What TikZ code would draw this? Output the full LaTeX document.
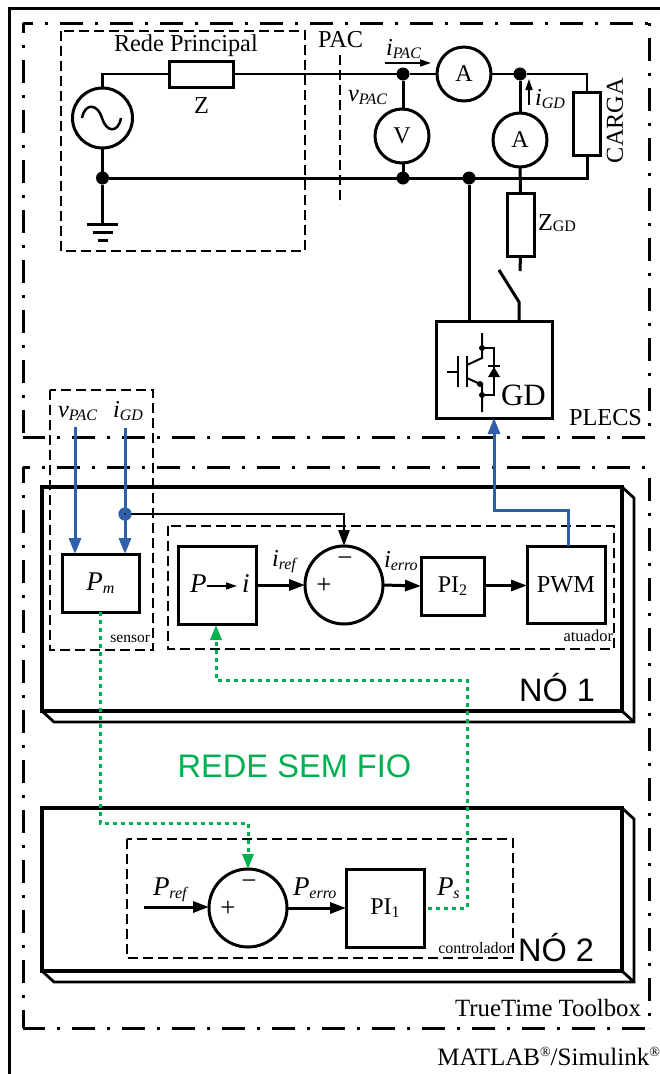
\documentclass[tikz,border=0pt]{standalone}
\usepackage{fontspec}
\setmainfont{Liberation Serif}
\newfontfamily\arialf{Liberation Sans}
\usetikzlibrary{arrows.meta,calc}
\newcommand\fsz[1]{\fontsize{#1}{#1}\selectfont}
\newcommand\subtxt[2]{\textit{#1}\raisebox{-3.5pt}{\fsz{16}\textit{#2}}}
\newcommand\subP[1]{{\fsz{27}\textit{P}}\raisebox{-3.5pt}{\fsz{16}\textit{#1}}}
\definecolor{myblue}{HTML}{2E5FA8}
\definecolor{mygreen}{HTML}{00B050}
\tikzset{
  x=1pt,y=-1pt,
  wire/.style={line width=3pt,line join=miter},
  thinwire/.style={line width=1.6pt},
  ddframe/.style={line width=3pt,dash pattern=on 23pt off 12pt on 2.5pt off 12.5pt},
  dbox/.style={line width=1.2pt,dash pattern=on 10pt off 5pt},
  blk/.style={draw,line width=3pt,rectangle,inner sep=0pt,outer sep=0pt,fill=white},
  circ/.style={draw,line width=3pt,circle,inner sep=0pt,outer sep=0pt,minimum size=#1},
  dot/.style={circle,fill=black,inner sep=0pt,outer sep=0pt,minimum size=13pt},
  t/.style={inner sep=0pt,outer sep=0pt,anchor=base west,font=\fsz{24.3}},
  te/.style={inner sep=0pt,outer sep=0pt,anchor=base east,font=\fsz{24.3}},
  tc/.style={inner sep=0pt,outer sep=0pt,anchor=center,font=\fsz{24.3}},
  bluel/.style={draw=myblue,line width=3pt,-{Triangle[length=16pt,width=12pt]}},
  greenl/.style={draw=mygreen,line width=3pt,dash pattern=on 4pt off 4pt},
  greentip/.style={-{Triangle[length=15pt,width=11pt,fill=mygreen,color=mygreen]}},
  blackar/.style={line width=3pt,-{Triangle[length=16pt,width=11pt]}},
  box3d/.style={line width=3.2pt,line join=miter}
}
\begin{document}
\begin{tikzpicture}
\useasboundingbox (0,0) rectangle (660,1074);
% outer frame
\coordinate (oa) at (9,1074); \coordinate (ob) at (9,8); \coordinate (oc) at (660,8);
\draw[line width=3pt] (oa) -- (ob) -- (oc);
% dash-dot frames
\coordinate (pa) at (23,23); \coordinate (pb) at (649,23); \coordinate (pc) at (649,437); \coordinate (pd) at (23,437);
\draw[ddframe,dash phase=13pt] (pa) -- (pb) (pa) -- (pd);
\draw[ddframe,dash phase=35pt] (pb) -- (pc);
\draw[ddframe,dash phase=1pt] (pd) -- (pc);
\coordinate (qa) at (23,467); \coordinate (qb) at (649,467); \coordinate (qc) at (649,1028); \coordinate (qd) at (23,1028);
\draw[ddframe,dash phase=16pt] (qa) -- (qb);
\draw[ddframe,dash phase=7pt] (qa) -- (qd);
\draw[ddframe,dash phase=39pt] (qb) -- (qc);
\draw[ddframe,dash phase=1pt] (qd) -- (qc);
% 3D blocks
\draw[box3d] (42,487) rectangle (622,711);
\draw[box3d,line width=2.8pt] (622,487) -- (634,498) -- (634,722) -- (54,722) -- (42,711) (622,711) -- (634,722);
\draw[box3d] (42,808) rectangle (622,971);
\draw[box3d,line width=2.8pt] (622,808) -- (634,819) -- (634,982) -- (54,982) -- (42,971) (622,971) -- (634,982);
% dashed boxes
\draw[dbox] (61,31) rectangle (305,251);
\coordinate (paca) at (340,55); \coordinate (pacb) at (340,205);
\draw[dbox] (paca) -- (pacb);
\draw[dbox] (50,390) rectangle (153,650);
\draw[dbox] (168,526) rectangle (614,649);
\draw[dbox] (127,839) rectangle (513,958);

% --- top circuit nodes
\node[circ=60pt] (src) at (102.5,118) {};
\node[blk,minimum width=64pt,minimum height=26pt] (z) at (201,74) {};
\node[circ=54pt,font=\fsz{24}] (ampac) at (464,74) {A};
\node[circ=54pt,font=\fsz{24}] (volt) at (402,136) {V};
\node[circ=54pt,font=\fsz{24}] (amgd) at (520,140) {A};
\node[blk,minimum width=27pt,minimum height=63pt] (carga) at (587,123.5) {};
\node[blk,minimum width=27pt,minimum height=63pt] (zgd) at (520.5,224.5) {};
\node[blk,minimum width=116pt,minimum height=97pt] (gd) at (494,369.5) {};
\node[dot] (j1) at (403,74) {};
\node[dot] (j2) at (520,74) {};
\node[dot] (j3) at (102.5,178) {};
\node[dot] (j4) at (403,178) {};
\node[dot] (j5) at (469,178) {};
\coordinate (c1) at (587,74);
\coordinate (c2) at (587,178);
\coordinate (gnd) at (102.5,224);
\coordinate (sw0) at (520,271);
\coordinate (sw1) at (499,270);
\coordinate (sw2) at (519,302);
\coordinate (sw3) at (519,321);
\coordinate (gdin) at (469,321);
% circuit wires
\draw[wire,line width=2.5pt] (src.north) |- (z.west);
\draw[wire,line width=2.5pt] (z.east) -- (j1) -- (ampac.west);
\draw[wire,line width=2.5pt] (ampac.east) -- (j2) -- (c1) -- (carga.north);
\draw[wire] (carga.south) -- (c2) -- (j3);
\draw[wire] (src.south) -- (j3) -- (gnd);
\draw[wire] (j1) -- (j1 |- volt.north);
\draw[wire] (j4 |- volt.south) -- (j4);
\draw[wire] (j2) -- (amgd.north);
\draw[wire] (amgd.south) -- (zgd.north);
\draw[wire] (zgd.south) -- (sw0);
\draw[wire] (j5) -- (gdin);
\draw[wire] (sw1) -- (sw2) -- (sw3);
% ground
\draw[wire] ($(gnd)+(-15.5,0)$) -- ($(gnd)+(15.5,0)$);
\draw[wire] ($(gnd)+(-10,8)$) -- ($(gnd)+(10,8)$);
\draw[wire] ($(gnd)+(-5,16)$) -- ($(gnd)+(5,16)$);
% sine
\draw[line width=2.5pt] (82,118) .. controls (85,102) and (98,104) .. (102,118) .. controls (106,132) and (118,134) .. (121,118);
% IGBT
\begin{scope}[line width=2pt]
\draw (447,372) -- (458,372);
\draw (458,356) -- (458,387);
\draw (467,356) -- (467,387);
\draw (467,365) -- (482,358) -- (482,333);
\draw (467,378) -- (480,384) -- (482,384) -- (482,412);
\draw (482,348) -- (494,348) -- (494,395) -- (482,395);
\fill (482,348) circle (3pt);
\fill (480,384) circle (3pt);
\fill (482,395) circle (3pt);
\fill (488,377) -- (500,377) -- (494,367) -- cycle;
\draw (488,366) -- (500,366);
\end{scope}
% labels top
\node[t] (lrede) at (114,51) {Rede Principal};
\node[t] (lz) at (194,113) {Z};
\node[t] (lpac) at (318,47) {PAC};
\node[t] (lipac) at (386,55) {\subtxt{i}{PAC}};
\coordinate (ia) at (385,63); \coordinate (ib) at (431,63);
\draw[thinwire,-{Triangle[length=11pt,width=7pt]}] (ia) -- (ib);
\node[t] (lvpac) at (348,101) {\subtxt{v}{PAC}};
\coordinate (iga) at (529,105); \coordinate (igb) at (529,79);
\draw[thinwire,-{Triangle[length=11pt,width=7pt]}] (iga) -- (igb);
\node[t] (ligd) at (535,105) {\subtxt{i}{GD}};
\node[tc,rotate=90] (lcarga) at (615,120.5) {CARGA};
\node[t] (lzgd) at (538,230) {Z\raisebox{-1pt}{\fsz{16}GD}};
\node[t,font=\fsz{31}] (lgd) at (501,405) {GD};
\node[te] (lplecs) at (642,425) {PLECS};

% --- lower blocks
\node[t] (lv2) at (58,417) {\subtxt{v}{PAC}};
\node[t] (li2) at (113,417) {\subtxt{i}{GD}};
\node[blk,minimum width=77pt,minimum height=58pt,font=\fsz{24}] (pm) at (100.5,583) {\subP{m}};
\node[blk,minimum width=78pt,minimum height=78pt] (pi) at (217,585) {};
\node[t,font=\fsz{27}] (pp) at (190,592) {\textit{P}};
\node[t,font=\fsz{27}] (pii) at (242,592) {\textit{i}};
\draw[thinwire,-{Triangle[length=11pt,width=7pt]},shorten >=5pt] (pp.east |- 0,586) ++(1,0) coordinate (pia) (pia) -- (pii.west |- pia);
\node[circ=78pt] (sum1) at (344,585) {};
\node[blk,minimum width=63pt,minimum height=58pt,font=\fsz{24}] (pi2) at (452.5,586) {PI\raisebox{-3pt}{\fsz{16}2}};
\node[blk,minimum width=78pt,minimum height=77pt,font=\fsz{24.3}] (pwm) at (566,584.5) {PWM};
\node[tc,font=\fsz{27}] (plus1) at (324,586) {+};
\node[tc,font=\fsz{27}] (minus1) at (345,562) {−};
\node[t] (liref) at (272,566) {\subtxt{i}{ref}};
\node[t] (lierro) at (384,567) {\subtxt{i}{erro}};
\node[te,font=\fsz{15.5}] (lsens) at (150,642) {sensor};
\node[te,font=\fsz{16.5}] (latu) at (613,641) {atuador};
\node[te,font=\arialf\fsz{32.5}] (ln1) at (595,701) {NÓ 1};
\node[tc,font=\arialf\fsz{32.6},text=mygreen] (lrsf) at (294.5,766) {REDE SEM FIO};
\node[circ=78pt] (sum2) at (248,908) {};
\node[blk,minimum width=78pt,minimum height=78pt,font=\fsz{24}] (pi1) at (385,908) {PI\raisebox{-3pt}{\fsz{16}1}};
\node[tc,font=\fsz{27}] (plus2) at (228,909) {+};
\node[tc,font=\fsz{27}] (minus2) at (249,885) {−};
\node[t] (lpref) at (153,895) {\subP{ref}};
\node[t] (lperro) at (293,895) {\subP{erro}};
\node[t] (lps) at (437,895) {\subP{s}};
\node[te,font=\fsz{16}] (lctrl) at (512,953) {controlador};
\node[te,font=\arialf\fsz{32.5}] (ln2) at (594,961) {NÓ 2};
\node[te,font=\fsz{24.8}] (ltt) at (641,1016) {TrueTime Toolbox};
\node[te,font=\fsz{25}] (lml) at (660,1065) {MATLAB\raisebox{9pt}{\fsz{14}®}/Simulink\raisebox{9pt}{\fsz{14}®}};

% --- connectors lower
\coordinate (va) at (75,427); \coordinate (pmv) at (75,554);
\coordinate (ga) at (125,428); \coordinate (pmi) at (125,554);
\node[circle,fill=myblue,inner sep=0pt,outer sep=0pt,minimum size=13pt] (bd) at (125,514) {};
\draw[blackar,line width=2.6pt] (bd.center) -| (sum1.north);
\draw[bluel] (va) -- (pmv);
\draw[bluel] (ga) -- (pmi);
\fill[myblue] (bd) circle (6.5pt);
\fill (bd) circle (0.9pt);
\draw[blackar] (pi.east) -- (sum1.west);
\draw[blackar] (sum1.east) -- (pi2.west);
\draw[blackar] ($(pi2.east)+(2,-0.5)$) coordinate (pi2o) -- (pwm.west |- pi2o);
\coordinate (pwmo) at (568,546); \coordinate (bt) at (494,510);
\draw[bluel] (pwmo) |- (bt) -- (gd.south);
\coordinate (pfa) at (144,907);
\draw[blackar] (pfa) -- (sum2.west |- pfa);
\draw[blackar] (sum2.east) -- (pi1.west);
% green
\coordinate (g1) at (100,612); \coordinate (g2) at (100,823); \coordinate (g3) at (248,823);
\draw[greenl,greentip] (g1) -- (g2) -- (g3) -- (sum2.north);
\coordinate (h1) at (428,908); \coordinate (h2) at (467,908); \coordinate (h3) at (467,680); \coordinate (h4) at (216,680); \coordinate (h5) at (216,625);
\draw[greenl,greentip] (h1) -- (h2) -- (h3) -- (h4) -- (h5);
\end{tikzpicture}
\end{document}
